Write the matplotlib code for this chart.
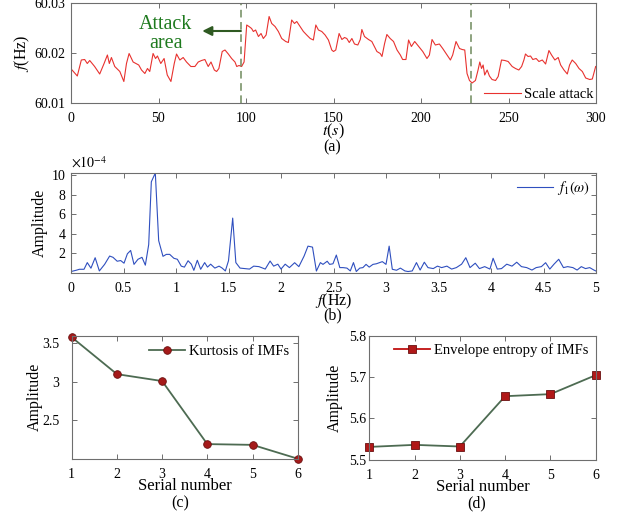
import numpy as np
import matplotlib
matplotlib.use("Agg")
import matplotlib.pyplot as plt

plt.rcParams['font.family'] = ['Liberation Serif', 'DejaVu Serif']
plt.rcParams['mathtext.fontset'] = 'stix'

# ---------------- data ----------------
t_sec = [0.6, 3.6, 5.9, 7.8, 9.3, 10.7, 13.5, 16.4, 18.9, 20.8, 21.9, 23.1, 25.0, 27.9,
         30.2, 31.7, 33.2, 35.5, 38.7, 40.3, 42.2, 43.7, 45.0, 46.9, 48.3, 49.4, 51.3,
         53.2, 55.0, 57.1, 59.0, 60.3, 62.2, 64.1, 66.0, 68.5, 70.8, 72.7, 74.6, 76.5,
         78.4, 80.0, 81.9, 83.2, 84.5, 86.4, 88.0, 89.9, 91.8, 93.7, 94.7, 96.0, 97.5,
         98.9, 100.4, 101.7, 103.2, 104.2, 105.5, 107.1, 108.6, 109.9, 111.5, 113.2,
         114.7, 116.6, 118.5, 120.4, 122.7, 124.2, 126.1, 127.7, 129.0, 130.9, 132.8,
         134.7, 136.7, 138.5, 139.9, 141.4, 143.3, 145.2, 147.1, 149.0, 150.0, 151.3,
         153.2, 154.8, 156.3, 157.6, 159.0, 160.5, 162.0, 163.9, 165.3, 166.2, 167.7,
         170.0, 171.9, 174.8, 176.7, 177.7, 179.2, 180.5, 182.4, 184.3, 186.3, 188.2,
         189.5, 191.4, 192.9, 194.5, 196.4, 198.7, 201.0, 203.4, 204.8, 206.3, 208.2,
         210.5, 212.4, 214.9, 216.8, 218.1, 220.0, 222.0, 223.5, 225.0, 226.3, 227.7,
         229.2, 231.1, 232.6, 233.6, 234.6, 235.5, 236.4, 237.8, 239.1, 240.6, 242.6,
         244.1, 246.0, 247.9, 249.8, 252.1, 254.0, 255.9, 257.5, 258.8, 259.7, 261.2,
         262.6, 263.9, 265.8, 267.4, 269.3, 271.2, 273.1, 274.6, 276.5, 278.4, 279.8,
         281.7, 283.6, 284.9, 286.4, 288.4, 290.3, 292.2, 294.1, 296.4, 297.9, 299.8]
freq_hz = [60.0166, 60.0154, 60.0186, 60.0187, 60.0179, 60.0185, 60.0173, 60.0158, 60.0179,
           60.0196, 60.0179, 60.0191, 60.0173, 60.0163, 60.0143, 60.0179, 60.0199, 60.0182,
           60.0176, 60.0166, 60.0159, 60.0169, 60.0163, 60.0199, 60.0189, 60.0194, 60.0179,
           60.0189, 60.0156, 60.0143, 60.0179, 60.0198, 60.0186, 60.0191, 60.0182, 60.0173,
           60.0173, 60.0182, 60.0185, 60.0187, 60.0173, 60.0182, 60.0166, 60.0163, 60.0169,
           60.0203, 60.0206, 60.0198, 60.0189, 60.0182, 60.0173, 60.0175, 60.0173, 60.0182,
           60.0256, 60.0253, 60.0249, 60.0243, 60.0246, 60.0233, 60.0239, 60.0229, 60.0236,
           60.0273, 60.0259, 60.0253, 60.0243, 60.0229, 60.0223, 60.0221, 60.0266, 60.0259,
           60.0263, 60.0253, 60.0243, 60.0236, 60.0229, 60.0226, 60.0256, 60.0246, 60.0243,
           60.0236, 60.0226, 60.0206, 60.0203, 60.0206, 60.0239, 60.0227, 60.0231, 60.0229,
           60.0221, 60.0229, 60.0218, 60.0216, 60.0227, 60.0247, 60.0233, 60.0227, 60.0223,
           60.0203, 60.0199, 60.0193, 60.0219, 60.0237, 60.0229, 60.0223, 60.0206, 60.0196,
           60.0187, 60.0187, 60.0226, 60.0213, 60.0223, 60.0213, 60.0203, 60.0189, 60.0196,
           60.0227, 60.0216, 60.0218, 60.0209, 60.0196, 60.0186, 60.0196, 60.0223, 60.0209,
           60.0207, 60.0206, 60.0159, 60.0145, 60.0140, 60.0145, 60.0166, 60.0182, 60.0169,
           60.0176, 60.0156, 60.0166, 60.0154, 60.0147, 60.0145, 60.0153, 60.0186, 60.0185,
           60.0183, 60.0173, 60.0169, 60.0166, 60.0173, 60.0186, 60.0198, 60.0193, 60.0194,
           60.0187, 60.0189, 60.0183, 60.0186, 60.0178, 60.0205, 60.0196, 60.0186, 60.0191,
           60.0176, 60.0166, 60.0158, 60.0176, 60.0186, 60.0179, 60.0169, 60.0163, 60.0150,
           60.0147, 60.0148, 60.0173]

spec_f = [0.0, 0.05, 0.08, 0.124, 0.155, 0.19, 0.23, 0.27, 0.32, 0.368, 0.4, 0.44, 0.473,
          0.505, 0.537, 0.568, 0.6, 0.638, 0.676, 0.708, 0.74, 0.765, 0.803, 0.835, 0.876,
          0.908, 0.94, 0.98, 1.013, 1.05, 1.08, 1.115, 1.146, 1.17, 1.203, 1.235, 1.273,
          1.3, 1.33, 1.37, 1.41, 1.44, 1.47, 1.5, 1.54, 1.57, 1.61, 1.66, 1.7, 1.74, 1.79,
          1.85, 1.896, 1.93, 1.97, 2.0, 2.04, 2.08, 2.13, 2.17, 2.22, 2.257, 2.3, 2.337,
          2.375, 2.4, 2.44, 2.463, 2.495, 2.527, 2.56, 2.59, 2.628, 2.66, 2.69, 2.717, 2.75,
          2.78, 2.81, 2.84, 2.876, 2.908, 2.94, 2.965, 3.0, 3.03, 3.06, 3.1, 3.137, 3.18,
          3.21, 3.25, 3.29, 3.325, 3.365, 3.4, 3.45, 3.49, 3.53, 3.58, 3.625, 3.67, 3.72,
          3.76, 3.8, 3.85, 3.89, 3.94, 3.99, 4.02, 4.06, 4.1, 4.15, 4.2, 4.245, 4.29, 4.34,
          4.39, 4.43, 4.48, 4.52, 4.56, 4.6, 4.645, 4.69, 4.73, 4.78, 4.82, 4.86, 4.9, 4.94,
          4.98, 5.0]
spec_amp_1e4 = [0.15, 0.28, 0.38, 0.38, 1.06, 0.49, 1.56, 0.21, 0.88, 1.73, 1.6, 1.2, 1.27,
                1.0, 1.96, 2.3, 0.88, 1.4, 1.6, 0.8, 2.9, 9.3, 10.2, 3.3, 1.7, 1.9, 1.9, 1.5,
                1.4, 0.7, 0.6, 1.25, 0.9, 0.27, 1.3, 0.38, 1.06, 0.6, 0.9, 0.5, 0.7, 0.5,
                0.21, 1.25, 5.6, 1.06, 0.5, 0.45, 0.4, 0.7, 0.65, 0.4, 1.22, 0.7, 0.9, 0.4,
                0.9, 0.55, 1.05, 0.65, 1.73, 2.74, 2.64, 0.2, 1.06, 0.88, 1.2, 0.88, 0.94,
                1.83, 0.55, 0.55, 0.5, 0.21, 1.06, 0.15, 0.5, 0.55, 0.88, 0.6, 0.88, 0.94,
                1.06, 1.16, 0.88, 2.74, 0.38, 0.28, 0.5, 0.21, 0.15, 0.21, 1.06, 0.3, 1.1,
                0.55, 0.45, 0.7, 0.55, 0.7, 0.4, 0.55, 0.9, 1.56, 0.55, 1.0, 0.45, 0.65, 0.4,
                1.5, 0.4, 0.45, 0.9, 0.7, 1.1, 0.65, 0.55, 0.3, 0.55, 0.65, 1.05, 0.4, 0.9,
                1.4, 0.55, 0.65, 0.55, 0.3, 0.65, 0.45, 0.55, 0.3, 0.2]

serial = [1, 2, 3, 4, 5, 6]
kurtosis = [3.58, 3.10, 3.01, 2.19, 2.18, 2.00]
env_entropy = [5.531, 5.536, 5.532, 5.654, 5.659, 5.705]

attack_start = 97.1
attack_end = 228.6

# ---------------- style ----------------
frame_c = '#6e6e6e'
tick_fs = 10
lab_fs = 11.5
leg_fs = 10.5


def style(ax, ypad=4):
    for s in ax.spines.values():
        s.set_color(frame_c)
        s.set_linewidth(0.8)
    ax.tick_params(direction='in', top=True, right=True, length=3.5, width=0.7,
                   color=frame_c, labelsize=tick_fs)
    ax.tick_params(axis='x', pad=6.5)
    ax.tick_params(axis='y', pad=ypad)


fig = plt.figure(figsize=(6.23, 5.18), dpi=100)

# ---- (a) ----
ax1 = fig.add_axes([71/623, 1-103/518, 525/623, 100/518])
ax1.plot(t_sec, freq_hz, color='#e8322f', lw=0.8, label='Scale attack')
for xv in (attack_start, attack_end):
    ax1.axvline(xv, color='#6f8a5c', lw=1.1, ls=(0, (5, 3)))
ax1.annotate('', xy=(75.0, 60.0244), xytext=(attack_start, 60.0244),
             arrowprops=dict(arrowstyle='-|>', color='#2f5a22', lw=1.5,
                             mutation_scale=14, shrinkA=0, shrinkB=0))
ax1.text(54, 60.0238, 'Attack\narea', color='#1e7a1e', fontsize=14.5,
         ha='center', va='center', linespacing=1.05)
ax1.set_xlim(0, 300)
ax1.set_ylim(60.01, 60.03)
ax1.set_xticks([0, 50, 100, 150, 200, 250, 300])
ax1.set_yticks([60.01, 60.02, 60.03])
ax1.set_yticklabels(['60.01', '60.02', '60.03'])
style(ax1)
ax1.set_ylabel('$f$(Hz)', fontsize=lab_fs, labelpad=2)
ax1.set_xlabel('$t$($s$)', fontsize=lab_fs, labelpad=-2)
ax1.legend(loc='lower right', frameon=False, fontsize=leg_fs, handlelength=2.5,
           handletextpad=0.25, borderaxespad=0.0, borderpad=0.15)
fig.text(332/623, 1-147/518, '(a)', fontsize=lab_fs, ha='center', va='center')

# ---- (b) ----
ax2 = fig.add_axes([71/623, 1-273/518, 525/623, 100/518])
ax2.plot(spec_f, spec_amp_1e4, color='#2f4fbf', lw=0.8, label=r'$f_1(\omega)$')
ax2.set_xlim(0, 5)
ax2.set_ylim(0, 10.2)
ax2.set_xticks([0, 0.5, 1, 1.5, 2, 2.5, 3, 3.5, 4, 4.5, 5])
ax2.set_xticklabels(['0', '0.5', '1', '1.5', '2', '2.5', '3', '3.5', '4', '4.5', '5'])
ax2.set_yticks([2, 4, 6, 8, 10])
style(ax2)
ax2.text(0.0, 1.02, r'$\times10^{-4}$', transform=ax2.transAxes, fontsize=10,
         ha='left', va='bottom')
ax2.set_ylabel('Amplitude', fontsize=lab_fs, labelpad=3)
ax2.set_xlabel('$f$(Hz)', fontsize=lab_fs, labelpad=-2.5)
ax2.legend(loc='upper right', frameon=False, fontsize=leg_fs, handlelength=2.5,
           handletextpad=0.25, borderaxespad=0.1, borderpad=0.3)
fig.text(333/623, 1-315/518, '(b)', fontsize=lab_fs, ha='center', va='center')

# ---- (c) ----
ax3 = fig.add_axes([71.7/623, 1-458.7/518, 226/623, 123/518])
ax3.plot(serial, kurtosis, color='#4d6b52', lw=1.3, marker='o', markersize=5.5,
         markerfacecolor='#a51a1a', markeredgecolor='#6a1010', markeredgewidth=0.6,
         clip_on=False, label='Kurtosis of IMFs')
ax3.set_xlim(1, 6)
ax3.set_ylim(2.0, 3.6)
ax3.set_xticks(serial)
ax3.set_yticks([2.5, 3, 3.5])
ax3.set_yticklabels(['2.5', '3', '3.5'])
style(ax3, ypad=9)
ax3.set_ylabel('Amplitude', fontsize=lab_fs, labelpad=-1)
ax3.set_xlabel('Serial number', fontsize=lab_fs + 0.5, labelpad=-2)
ax3.legend(loc='upper right', frameon=False, fontsize=leg_fs, handlelength=2.5,
           handletextpad=0.25, borderaxespad=0.1, borderpad=0.5)
fig.text(180/623, 1-503/518, '(c)', fontsize=lab_fs, ha='center', va='center')

# ---- (d) ----
ax4 = fig.add_axes([369.3/623, 1-459.7/518, 226.4/623, 123.7/518])
ax4.plot(serial, env_entropy, color='#4d6b52', lw=1.3, marker='s', markersize=5.5,
         markerfacecolor='#b01818', markeredgecolor='#6a1010', markeredgewidth=0.6,
         clip_on=False, label='Envelope entropy of IMFs')
ax4.set_xlim(1, 6)
ax4.set_ylim(5.5, 5.8)
ax4.set_xticks(serial)
ax4.set_yticks([5.5, 5.6, 5.7, 5.8])
style(ax4, ypad=2.5)
ax4.set_ylabel('Amplitude', fontsize=lab_fs, labelpad=4.5)
ax4.set_xlabel('Serial number', fontsize=lab_fs + 0.5, labelpad=-2)
leg4 = ax4.legend(loc='upper right', frameon=False, fontsize=leg_fs, handlelength=2.5,
                  handletextpad=0.25, borderaxespad=0.1, borderpad=0.4)
for h in leg4.get_lines():
    h.set_color('#c01010')
fig.text(477/623, 1-503/518, '(d)', fontsize=lab_fs, ha='center', va='center')

fig.savefig('out.png', dpi=100)
